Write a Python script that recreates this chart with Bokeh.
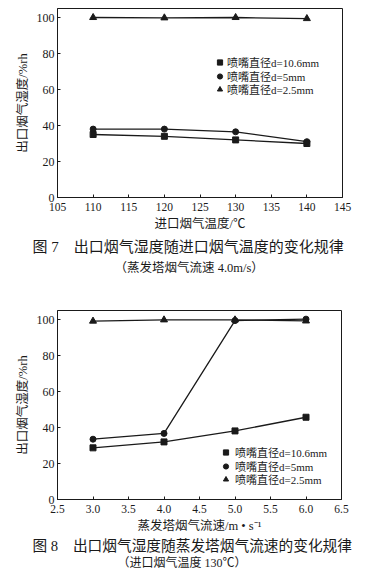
from bokeh.plotting import figure
from bokeh.models import (FixedTicker, Legend, LegendItem, Title)
from bokeh.layouts import column
from bokeh.embed import file_html
from bokeh.resources import INLINE

# ---------------- data: figure 7 ----------------
temps = [110, 120, 130, 140]
hum7_d106 = [35.0, 34.0, 32.0, 30.0]
hum7_d5 = [38.0, 38.0, 36.5, 31.0]
hum7_d25 = [100.0, 99.8, 100.0, 99.4]
x7_ticks = [105, 110, 115, 120, 125, 130, 135, 140, 145]

# ---------------- data: figure 8 ----------------
speeds = [3.0, 4.0, 5.0, 6.0]
hum8_d106 = [28.7, 32.0, 38.1, 45.7]
hum8_d5 = [33.5, 36.7, 99.4, 100.2]
hum8_d25 = [99.1, 99.8, 99.8, 99.2]
x8_ticks = [2.5, 3.0, 3.5, 4.0, 4.5, 5.0, 5.5, 6.0, 6.5]
x8_labels = ["2.5", "3.0", "3.5", "4.0", "4.5", "5.0", "5.5", "6.0", "6.5"]

y_ticks = [0, 20, 40, 60, 80, 100]
series_labels = ["喷嘴直径d=10.6mm", "喷嘴直径d=5mm", "喷嘴直径d=2.5mm"]

FONT = "'Liberation Serif', 'Noto Sans CJK SC', serif"
INK = "#1a1a1a"


def make_fig(xr, fw, fh, bl, br, bt, bb):
    p = figure(x_range=xr, y_range=(0, 105), frame_width=fw, frame_height=fh,
               min_border_left=bl, min_border_right=br, min_border_top=bt,
               min_border_bottom=bb, output_backend="svg", toolbar_location=None,
               background_fill_color="white", border_fill_color="white")
    p.outline_line_color = INK
    p.outline_line_width = 1
    p.xgrid.visible = False
    p.ygrid.visible = False
    for ax in (p.xaxis[0], p.yaxis[0]):
        ax.axis_line_color = INK
        ax.major_tick_line_color = INK
        ax.major_tick_in = 3
        ax.major_tick_out = 0
        ax.minor_tick_line_color = None
        ax.major_label_text_font = FONT
        ax.major_label_text_color = INK
        ax.axis_label_text_font = FONT
        ax.axis_label_text_color = INK
        ax.axis_label_text_font_style = "normal"
        ax.axis_label_text_font_size = "12.5px"
    p.xaxis.major_label_text_font_size = "11.5px"
    p.yaxis.major_label_text_font_size = "12px"
    p.xaxis.major_label_standoff = 5
    p.yaxis.major_label_standoff = 3
    p.xaxis.axis_label_standoff = 3
    p.yaxis.axis_label_standoff = 4
    p.yaxis.ticker = FixedTicker(ticks=y_ticks)
    p.yaxis.axis_label = "出口烟气湿度/%rh"
    return p


def add_series(p, xs, ys_list, lx, ly_list, standoff):
    markers = ["square", "circle", "triangle"]
    sizes = [6, 6, 7]
    for ys, m, s, lab, ly in zip(ys_list, markers, sizes, series_labels, ly_list):
        p.line(xs, ys, line_color=INK, line_width=1.3)
        r = p.scatter(xs, ys, marker=m, size=s, fill_color=INK, line_color=INK)
        lg = Legend(items=[LegendItem(label=lab, renderers=[r])], location=(lx, ly),
                    label_text_font=FONT, label_text_font_size="11px",
                    label_text_color=INK, label_height=18, glyph_height=18,
                    glyph_width=13, spacing=0, padding=0, margin=0,
                    label_standoff=standoff, border_line_color=None,
                    background_fill_alpha=0)
        p.add_layout(lg)


def add_captions(p, cap, cap_size, cap_off, cap_standoff, sub, sub_size, sub_off, sub_standoff):
    t1 = Title(text=cap, align="left", offset=cap_off, text_font=FONT,
               text_font_size=cap_size, text_font_style="normal", text_color=INK,
               standoff=cap_standoff)
    t2 = Title(text=sub, align="left", offset=sub_off, text_font=FONT,
               text_font_size=sub_size, text_font_style="normal", text_color=INK,
               standoff=sub_standoff)
    p.add_layout(t1, "below")
    p.add_layout(t2, "below")


# ---- figure 7 ----
p1 = make_fig((105, 145), 285, 189, 53, 30, 8, 100)
p1.xaxis.ticker = FixedTicker(ticks=x7_ticks)
p1.xaxis.axis_label = "进口烟气温度/℃"
add_series(p1, temps, [hum7_d106, hum7_d5, hum7_d25], 156, [126, 112, 99], 1)
add_captions(p1, "图 7　出口烟气湿度随进口烟气温度的变化规律", "15px", -25, 7,
             "（蒸发塔烟气流速 4.0m/s）", "12.5px", 57, 0)

# ---- figure 8 ----
p2 = make_fig((2.5, 6.5), 284, 189, 57, 27, 13, 75)
p2.xaxis.ticker = FixedTicker(ticks=x8_ticks)
p2.xaxis.major_label_overrides = dict(zip(x8_ticks, x8_labels))
p2.xaxis.axis_label = "蒸发塔烟气流速/m • s⁻¹"
add_series(p2, speeds, [hum8_d106, hum8_d5, hum8_d25], 162, [38, 24, 11], 3)
add_captions(p2, "图 8　出口烟气湿度随蒸发塔烟气流速的变化规律", "14.7px", -25, 0,
             "（进口烟气温度 130℃）", "12px", 60, 1)

layout = column(p1, p2, spacing=0)
open("out.html", "w").write(file_html(layout, INLINE))
